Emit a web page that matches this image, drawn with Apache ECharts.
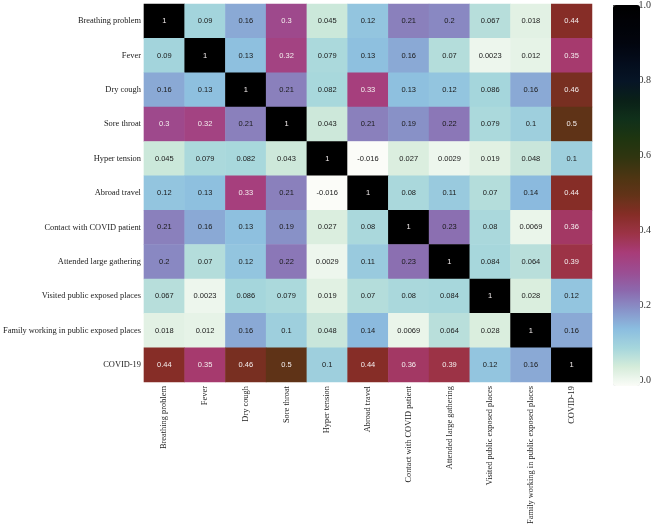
<!DOCTYPE html>
<html>
<head>
<meta charset="utf-8">
<script src="https://cdn.jsdelivr.net/npm/echarts@6/dist/echarts.min.js"></script>
<style>
html,body{margin:0;padding:0;background:#fff;}
#chart{width:654px;height:527px;}
</style>
</head>
<body>
<div id="chart"></div>
<script>
const categories = [
  'Breathing problem','Fever','Dry cough','Sore throat','Hyper tension',
  'Abroad travel','Contact with COVID patient','Attended large gathering',
  'Visited public exposed places','Family working in public exposed places','COVID-19'
];
const rowBreathing = [1, 0.09, 0.16, 0.3, 0.045, 0.12, 0.21, 0.2, 0.067, 0.018, 0.44];
const rowFever     = [0.09, 1, 0.13, 0.32, 0.079, 0.13, 0.16, 0.07, 0.0023, 0.012, 0.35];
const rowDryCough  = [0.16, 0.13, 1, 0.21, 0.082, 0.33, 0.13, 0.12, 0.086, 0.16, 0.46];
const rowSore      = [0.3, 0.32, 0.21, 1, 0.043, 0.21, 0.19, 0.22, 0.079, 0.1, 0.5];
const rowHyper     = [0.045, 0.079, 0.082, 0.043, 1, -0.016, 0.027, 0.0029, 0.019, 0.048, 0.1];
const rowAbroad    = [0.12, 0.13, 0.33, 0.21, -0.016, 1, 0.08, 0.11, 0.07, 0.14, 0.44];
const rowContact   = [0.21, 0.16, 0.13, 0.19, 0.027, 0.08, 1, 0.23, 0.08, 0.0069, 0.36];
const rowAttended  = [0.2, 0.07, 0.12, 0.22, 0.0029, 0.11, 0.23, 1, 0.084, 0.064, 0.39];
const rowVisited   = [0.067, 0.0023, 0.086, 0.079, 0.019, 0.07, 0.08, 0.084, 1, 0.028, 0.12];
const rowFamily    = [0.018, 0.012, 0.16, 0.1, 0.048, 0.14, 0.0069, 0.064, 0.028, 1, 0.16];
const rowCovid     = [0.44, 0.35, 0.46, 0.5, 0.1, 0.44, 0.36, 0.39, 0.12, 0.16, 1];
const matrixRows = [rowBreathing,rowFever,rowDryCough,rowSore,rowHyper,rowAbroad,rowContact,rowAttended,rowVisited,rowFamily,rowCovid];
const colorbarTicks = [0, 0.2, 0.4, 0.6, 0.8, 1.0];
const valueMin = -0.016, valueMax = 1.0;

// reversed cubehelix-like palette, evenly spaced from valueMin (white) to valueMax (black)
const palette = ['#fbfcf8','#d5ecda','#a5d6dc','#8bbde0','#8893c9','#8c68ad','#9b4d92','#a83c78',
  '#9c3346','#852d26','#633318','#4c3512','#303510','#1e3510','#10301a','#0a2018','#061526','#040c1c','#02050e','#010207','#000000'];

const data = [];
matrixRows.forEach((row, i) => {
  row.forEach((v, j) => {
    data.push({value: [j, i, v], label: {color: v >= 0.3 ? '#f4eeee' : '#1a1a1a'}});
  });
});

const serif = '"Liberation Serif", "DejaVu Serif", serif';
const chart = echarts.init(document.getElementById('chart'));
chart.setOption({
  animation: false,
  backgroundColor: '#ffffff',
  grid: [
    {left: 138, top: 4, width: 454, height: 385},
    {left: 613, top: 5, width: 27, height: 375}
  ],
  xAxis: [
    {type: 'category', data: categories, gridIndex: 0, position: 'bottom',
     axisLine: {show: false}, axisTick: {show: false}, splitLine: {show: false},
     axisLabel: {rotate: 90, margin: 4, fontFamily: serif, fontSize: 8.4, color: '#222', interval: 0}},
    {type: 'value', gridIndex: 1, show: false, min: 0, max: 1}
  ],
  yAxis: [
    {type: 'category', data: categories, gridIndex: 0, inverse: true,
     axisLine: {show: false}, axisTick: {show: false}, splitLine: {show: false},
     axisLabel: {margin: 3, fontFamily: serif, fontSize: 8.4, color: '#222', interval: 0}},
    {type: 'value', gridIndex: 1, position: 'right', min: 0, max: 1, interval: 0.2,
     axisLine: {show: false}, splitLine: {show: false},
     axisTick: {show: true, length: 3, lineStyle: {color: '#444', width: 1}},
     axisLabel: {margin: 1, fontFamily: serif, fontSize: 10, color: '#333',
       formatter: v => v.toFixed(1)}}
  ],
  visualMap: {
    type: 'continuous', min: valueMin, max: valueMax, calculable: false,
    seriesIndex: 0, orient: 'vertical', left: 613, top: 5, padding: 0,
    itemWidth: 27, itemHeight: 381, text: null, showLabel: false,
    inRange: {color: palette}
  },
  series: [{
    type: 'heatmap', xAxisIndex: 0, yAxisIndex: 0, data: data,
    itemStyle: {borderWidth: 0},
    label: {show: true, fontFamily: '"Liberation Sans", Arial, sans-serif', fontSize: 7.5,
      formatter: p => String(p.value[2])},
    emphasis: {disabled: true}
  }]
});
</script>
</body>
</html>
